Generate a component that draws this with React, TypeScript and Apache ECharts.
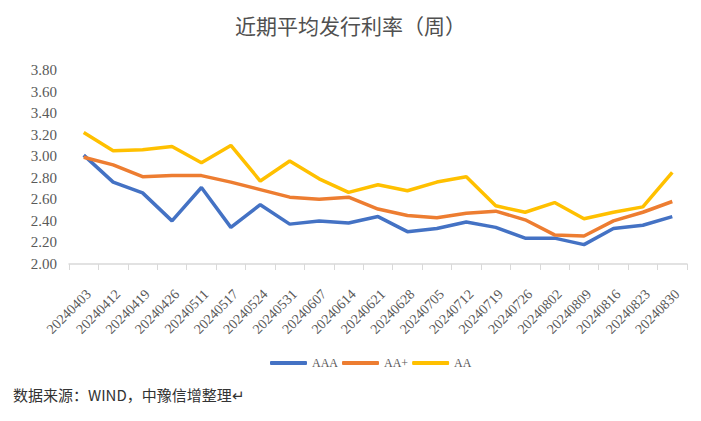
import React, { useEffect, useRef } from "react";
import * as echarts from "echarts";

const categories = [
  "20240403", "20240412", "20240419", "20240426", "20240511", "20240517", "20240524",
  "20240531", "20240607", "20240614", "20240621", "20240628", "20240705", "20240712",
  "20240719", "20240726", "20240802", "20240809", "20240816", "20240823", "20240830",
];
const aaa = [3.01, 2.76, 2.66, 2.40, 2.71, 2.34, 2.55, 2.37, 2.40, 2.38, 2.44, 2.30, 2.33, 2.39, 2.34, 2.24, 2.24, 2.18, 2.33, 2.36, 2.44];
const aaPlus = [2.99, 2.92, 2.81, 2.82, 2.82, 2.76, 2.69, 2.62, 2.60, 2.62, 2.51, 2.45, 2.43, 2.47, 2.49, 2.41, 2.27, 2.26, 2.40, 2.48, 2.58];
const aa = [3.22, 3.05, 3.06, 3.09, 2.94, 3.10, 2.77, 2.955, 2.79, 2.665, 2.735, 2.68, 2.76, 2.81, 2.54, 2.48, 2.57, 2.42, 2.48, 2.53, 2.85];
const seriesNames = ["AAA", "AA+", "AA"];
const title = "近期平均发行利率（周）";
const footer = "数据来源：WIND，中豫信增整理↵";

const SERIF = "'Liberation Serif', 'Times New Roman', serif";

export default function App() {
  const ref = useRef<HTMLDivElement>(null);
  useEffect(() => {
    if (!ref.current) return;
    const chart = echarts.init(ref.current, null, { renderer: "svg" });
    const colors = ["#4472C4", "#ED7D31", "#FFC000"];
    const data = [aaa, aaPlus, aa];
    chart.setOption({
      animation: false,
      backgroundColor: "#ffffff",
      title: {
        text: title,
        left: "center",
        top: 9,
        textStyle: { fontFamily: "'Noto Sans CJK SC'", fontSize: 21, fontWeight: "normal", color: "#505050" },
      },
      legend: {
        data: seriesNames,
        left: 265,
        top: 352,
        icon: "roundRect",
        itemWidth: 37,
        itemHeight: 4,
        itemGap: 4,
        textStyle: { fontFamily: SERIF, fontSize: 12, color: "#595959" },
      },
      grid: { left: 69, right: 14, top: 70, bottom: 157, containLabel: false },
      xAxis: {
        type: "category",
        data: categories,
        boundaryGap: true,
        axisLine: { lineStyle: { color: "#D9D9D9", width: 1.5 } },
        axisTick: { show: true, length: 6, lineStyle: { color: "#D9D9D9" } },
        axisLabel: {
          rotate: 45,
          interval: 0,
          margin: 23,
          verticalAlign: "top",
          fontFamily: SERIF,
          fontSize: 14,
          color: "#595959",
        },
      },
      yAxis: {
        type: "value",
        min: 2,
        max: 3.8,
        interval: 0.2,
        axisLine: { show: false },
        axisTick: { show: false },
        splitLine: { show: false },
        axisLabel: {
          margin: 12,
          fontFamily: SERIF,
          fontSize: 15,
          color: "#595959",
          formatter: (v: number) => v.toFixed(2),
        },
      },
      series: seriesNames.map((name, i) => ({
        name,
        type: "line",
        data: data[i],
        symbol: "none",
        lineStyle: { color: colors[i], width: 3.5 },
        itemStyle: { color: colors[i] },
      })),
      graphic: [
        {
          type: "text",
          left: 13,
          top: 387,
          style: { text: footer, fontFamily: "'Noto Sans CJK SC'", fontSize: 15, fill: "#333333" },
        },
      ],
    });
    return () => chart.dispose();
  }, []);
  return <div ref={ref} style={{ position: "absolute", left: 0, top: 0, width: 701, height: 421 }} />;
}
